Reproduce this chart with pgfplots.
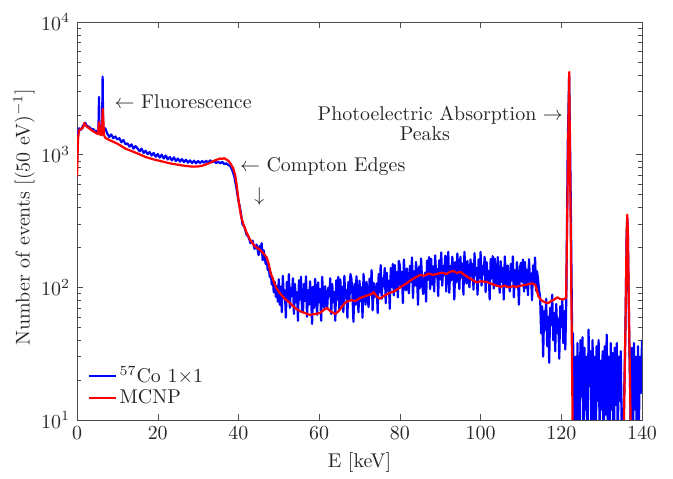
\documentclass[border=0pt]{standalone}
\usepackage{pgfplots}
\usepackage{pgfplotstable}
\pgfplotsset{compat=1.18}

% measured spectrum, 57Co 1x1 (keV, counts per 50 eV)
\pgfplotstableread{
E     N
0     850
0.25  1450
0.5   1580
1.0   1540
1.5   1650
2.0   1740
2.5   1640
3.0   1620
3.5   1560
4.0   1560
4.5   1490
5.0   1510
5.3   1460
5.45  2720
5.6   1470
6.0   1530
6.2   1470
6.35  3870
6.5   1500
7.0   1580
7.5   1440
8.0   1360
8.5   1420
9.0   1330
9.5   1370
10    1300
10.5  1330
11    1240
11.5  1290
12    1200
12.5  1215
13    1150
13.5  1195
14    1110
14.5  1160
15    1115
15.5  1060
16    1110
16.5  1030
17    1070
17.5  1010
18    1045
18.5  985
19    1030
19.5  965
20    1010
20.5  950
21    1000
21.5  935
22    985
22.5  920
23    960
23.5  905
24    955
24.5  895
25    935
25.5  885
26    925
26.5  880
27    915
27.5  870
28    905
28.5  865
29    900
29.5  860
30    895
30.5  865
31    895
31.5  870
32    900
32.5  870
33    905
33.5  875
34    895
34.5  865
35    885
35.5  860
36    880
36.5  850
37    860
37.5  835
38    820
38.5  760
39    680
39.5  560
40    450
40.5  380
41    300
41.5  285
42    250
42.5  240
43    215
43.5  225
44    195
44.5  210
45    175
45.25 205
45.5  185
45.75 215
46    160
46.25 190
46.5  170
46.75 150
47    165
47.25 135
47.5  145
47.75 120
48    130
48.25 105
48.5  118
48.75 92
49    110
49.25 85
49.5  102
49.75 78
50.00 115
50.25 74
50.50 101
50.75 65
51.00 122
51.25 83
51.50 95
51.75 59
52.00 110
52.25 79
52.50 126
52.75 70
53.00 99
53.25 86
53.50 117
53.75 63
54.00 106
54.25 77
54.50 92
54.75 56
55.00 113
55.25 81
55.50 120
55.75 68
56.00 65
56.25 106
56.50 79
56.75 121
57.00 60
57.25 95
57.50 74
57.75 111
58.00 84
58.25 53
58.50 101
58.75 70
59.00 116
59.25 82
59.50 62
59.75 109
60.00 77
60.25 97
60.50 56
60.75 120
61.00 86
61.25 70
61.50 102
61.75 76
62.00 70
62.25 99
62.50 86
62.75 117
63.00 63
63.25 106
63.50 77
63.75 92
64.00 56
64.25 113
64.50 81
64.75 120
65.00 68
65.25 115
65.50 74
65.75 101
66.00 65
66.25 122
66.50 83
66.75 95
67.00 59
67.25 110
67.50 79
67.75 126
68.00 116
68.25 88
68.50 55
68.75 106
69.00 74
69.25 121
69.50 86
69.75 65
70.00 112
70.25 79
70.50 100
70.75 59
71.00 126
71.25 92
71.50 74
71.75 110
72.00 83
72.25 71
72.50 116
72.75 88
73.00 135
73.25 67
73.50 108
73.75 84
74.00 93
74.25 107
74.50 64
74.75 126
75.00 92
75.25 147
75.50 82
75.75 117
76.00 102
76.25 140
76.50 76
76.75 129
77.00 94
77.25 112
77.50 69
77.75 140
78.00 101
78.25 150
78.50 87
78.75 147
79.00 94
79.25 130
79.50 84
79.75 158
80.00 146
80.25 103
80.50 131
80.75 76
81.00 162
81.25 118
81.50 95
81.75 139
82.00 104
82.25 90
82.50 145
82.75 110
83.00 168
83.25 83
83.50 132
83.75 103
84.00 155
84.25 118
84.50 74
84.75 143
85.00 99
85.25 165
85.50 116
85.75 89
86.00 107
86.25 129
86.50 78
86.75 159
87.00 114
87.25 169
87.50 97
87.75 164
88.00 105
88.25 144
88.50 93
88.75 174
89.00 120
89.25 137
89.50 86
89.75 160
90.00 115
90.25 183
90.50 103
90.75 145
91.00 125
91.25 173
91.50 93
91.75 157
92.00 185
92.25 91
92.50 145
92.75 113
93.00 170
93.25 130
93.50 81
93.75 155
94.00 109
94.25 180
94.50 126
94.75 97
95.00 170
95.25 119
95.50 151
95.75 88
96.00 185
96.25 133
96.50 107
96.75 158
97.00 116
97.25 100
97.50 162
97.75 121
98.00 150
98.25 96
98.50 181
98.75 123
99.00 140
99.25 88
99.50 162
99.75 117
100.00 185
100.25 103
100.50 145
100.75 125
101.00 170
101.25 92
101.50 155
101.75 111
102.00 133
102.25 81
102.50 163
102.75 117
103.00 172
103.25 98
103.50 165
103.75 106
104.00 102
104.25 169
104.50 119
104.75 91
105.00 157
105.25 110
105.50 140
105.75 81
106.00 171
106.25 123
106.50 100
106.75 146
107.00 108
107.25 93
107.50 150
107.75 113
108.00 171
108.25 84
108.50 134
108.75 104
109.00 155
109.25 118
109.50 74
109.75 141
110.00 153
110.25 110
110.50 162
110.75 93
111.00 155
111.25 99
111.50 136
111.75 87
112.00 163
112.25 111
112.50 127
112.75 80
113.00 146
113.25 106
113.50 168
113.75 94
114.00 132
114.25 114
114.50 95
114.75 85
115.00 45
115.25 72
115.50 30
115.75 66
116.00 48
116.25 82
116.50 36
116.75 60
117.00 27
117.25 70
117.50 52
117.75 88
118.00 40
118.25 64
118.50 33
118.75 75
119.00 45
119.25 58
119.50 29
119.75 72
120.00 50
120.25 80
120.50 38
120.75 66
121.00 34
121.25 85
121.6  1200
121.95 3900
122.3  600
122.8  20
122.9  45
123.25 8
123.5  30
123.75 3
124    38
124.25 14
124.5  6
124.75 40
125    15
125.25 42
125.5  4
125.75 35
126    12
126.25 30
126.5  5
126.75 48
127    18
127.25 33
127.5  7
127.75 40
128    10
128.25 30
128.5  3
128.75 36
129    14
129.25 40
129.5  8
129.75 28
130    12
130.25 33
130.5  4
130.75 36
131    11
131.25 44
131.5  9
131.75 30
132    6
132.25 38
132.5  12
132.75 32
133    3
133.25 35
133.5  13
133.75 38
134    7
134.25 30
134.5  14
134.75 33
135    6
135.4  8
135.9  50
136.2  250
136.35 330
136.5  250
136.8  50
137.2  9
137.5  35
137.75 5
138    38
138.25 12
138.5  30
138.75 4
139    36
139.25 10
139.5  30
139.75 16
140    40
}\measured

% MCNP simulation
\pgfplotstableread{
E     N
0     680
0.25  1300
0.5   1530
1.0   1560
1.5   1600
1.8   1730
2.2   1650
3.0   1580
4.0   1500
4.8   1450
5.2   1430
5.45  1770
5.7   1420
6.1   1400
6.4   2210
6.7   1400
7.0   1340
8     1290
9     1250
10    1210
11    1160
12    1110
13    1080
14    1050
15    1020
16    990
17    960
18    940
19    920
20    905
21    890
22    875
23    860
24    850
25    840
26    830
27    822
28    815
29    812
30    815
31    825
32    845
33    870
34    900
35    925
35.5  935
36    930
36.5  940
37    920
37.5  900
38    860
38.7  790
39.2  700
39.6  580
40    460
40.6  350
41.2  300
42    260
42.9  228
44    205
45.3  192
46.2  180
47    168
47.5  150
48    128
48.6  114
49.3  100
50.3  90
51.5  82
52.8  76
54    70
55.3  66
56.5  64
57.7  62
59    63
60.2  64
61    67
61.9  70
62.8  66
64    63
65    67
66    74
66.8  78
68    80
69    79
70.1  83
71    85
72    87
73    89
73.5  92
74.2  86
75    82
76    86
77.2  90
78.4  93
79.5  97
80.5  102
81.6  107
82.5  112
83.5  117
85    124
86    122
87    127
88.3  124
89.5  127
90.5  129
91.5  126
92.5  131
93.3  133
94.2  128
95    131
95.7  126
96.5  121
97.5  116
99    109
100   111
101.5 110
102.5 107
103.5 104
105   101
106   103
107   100
108   102
109   101
110   103
111   104
112   106
113   107
113.6 104
114.3 86
115   80
116   77
116.8 76
117.5 79
118.3 81
119   84
119.6 82
120.3 81
121.2 83
121.95 4200
123.0 2.4
135.3 2.4
135.45 7
135.9  50
136.2  260
136.35 352
136.5  260
136.8  55
137.25 7
137.4  2.4
140    2.4
}\mcnp

\begin{document}
\begin{tikzpicture}
    \useasboundingbox (-38.5bp,-29.5bp) rectangle (298bp,210bp);
    \begin{axis}[
            scale only axis,
            width=282.5bp,
            height=199bp,
            xmin=0, xmax=140,
            ymin=10, ymax=10000,
            ymode=log,
            xtick={0,20,...,140},
            tick align=inside,
            major tick length=3bp,
            minor tick length=2bp,
            axis line style={draw=black!70},
            tick style={black!70},
            ticklabel style={text=black!85},
            label style={text=black!85},
            xlabel={E [keV]},
            ylabel={Number of events [(50 eV)$^{-1}$]},
            xlabel style={at={(axis description cs:0.5,-0.108)}, anchor=center},
            ylabel style={at={(axis description cs:-0.0938,0.51)}, anchor=center},
            legend cell align=left,
            legend image code/.code={
                \draw[#1] (0bp,0bp) -- (13.3bp,0bp);
            },
            legend style={
                    draw=none, fill=none,
                    at={(axis description cs:0.008,0.015)},
                    anchor=south west,
                    row sep=-1pt,
                    text=black!85,
                    nodes={inner sep=1.5pt},
                },
        ]

        \addplot[blue, line width=1.1bp, line join=round] table[x=E, y=N] {\measured};
        \addlegendentry{$^{57}$Co 1$\times$1}

        \addplot[red, line width=1.1bp, line join=round] table[x=E, y=N] {\mcnp};
        \addlegendentry{MCNP}

        \node[anchor=west, inner sep=0pt, text=black!85] at (axis cs:9.2,2500) {$\leftarrow$ Fluorescence};
        \node[anchor=west, inner sep=0pt, text=black!85] at (axis cs:40.3,813) {$\leftarrow$ Compton Edges};
        \node[inner sep=0pt, text=black!85] at (axis cs:45.2,482) {$\downarrow$};
        \node[anchor=east, inner sep=0pt, text=black!85] at (axis cs:120.5,1990) {Photoelectric Absorption $\rightarrow$};
        \node[inner sep=0pt, text=black!85] at (axis cs:86.2,1449) {Peaks};
    \end{axis}
\end{tikzpicture}
\end{document}
